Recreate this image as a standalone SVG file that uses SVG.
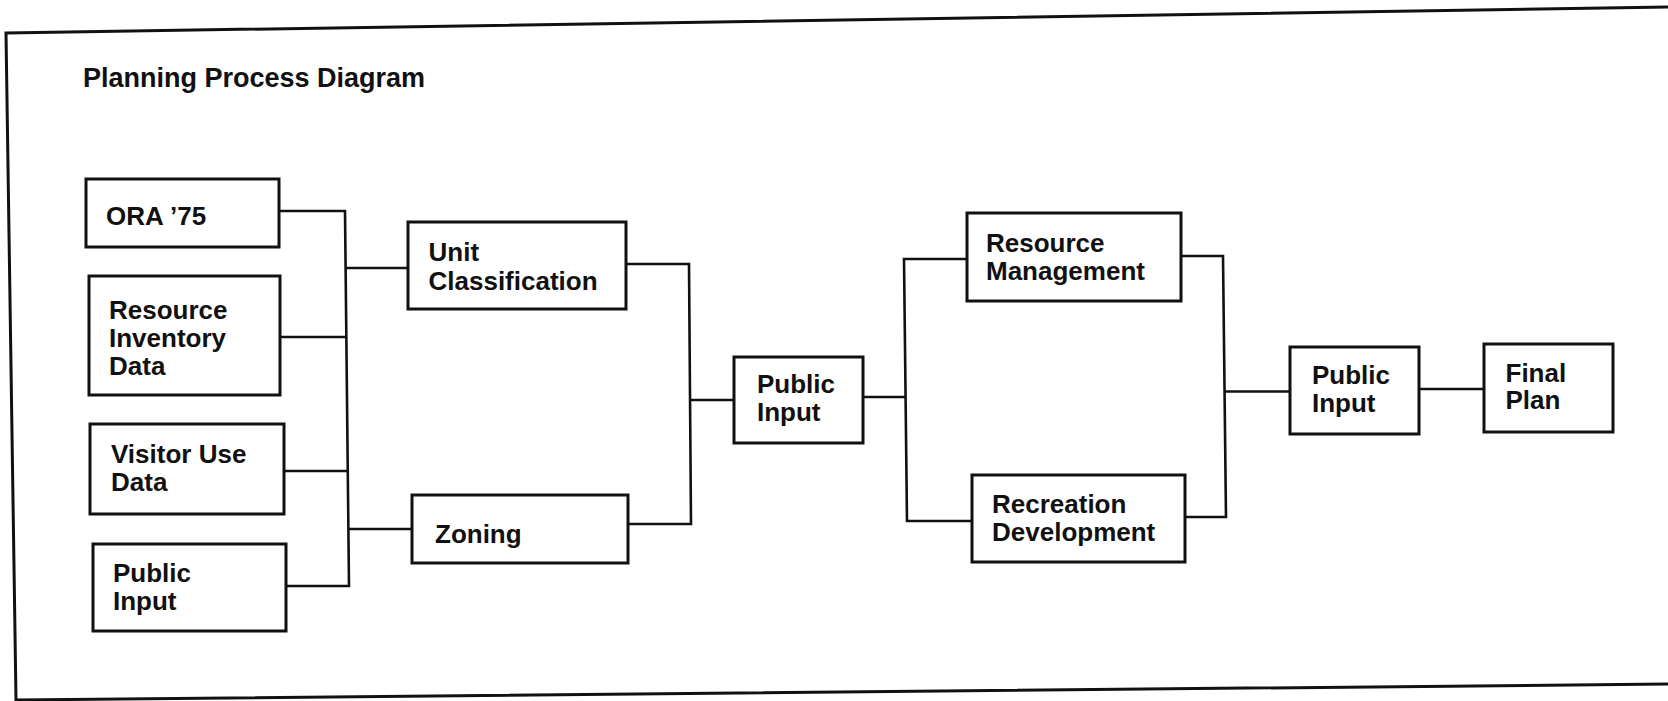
<svg xmlns="http://www.w3.org/2000/svg" width="1668" height="701" viewBox="0 0 1668 701">
<style>
.bg{fill:#fff}
.frame{fill:none;stroke:#111;stroke-width:3;stroke-linejoin:miter}
.box{fill:#fff;stroke:#111;stroke-width:3}
.con{fill:none;stroke:#111;stroke-width:2.6;stroke-linejoin:miter}
.t{font-family:"Liberation Sans",Arial,sans-serif;font-weight:bold;font-size:26px;fill:#111}
.title{font-family:"Liberation Sans",Arial,sans-serif;font-weight:bold;font-size:27px;fill:#111}
</style>
<rect class="bg" x="0" y="0" width="1668" height="701"/>
<polygon class="frame" points="6,33 1671,7 1671,684 16,700"/>
<text class="title" x="83" y="87">Planning Process Diagram</text>
<g id="connectors">
<polyline class="con" points="279,211 345,211 349,586 286,586"/>
<polyline class="con" points="280,337 346,337"/>
<polyline class="con" points="284,471 347,471"/>
<polyline class="con" points="345,268 408,268"/>
<polyline class="con" points="349,529 412,529"/>
<polyline class="con" points="626,264 689,264 691,524 628,524"/>
<polyline class="con" points="691,400 734,400"/>
<polyline class="con" points="863,397 905,397"/>
<polyline class="con" points="967,259 904,259 907,521 972,521"/>
<polyline class="con" points="1181,256 1223,256 1226,517 1185,517"/>
<polyline class="con" points="1225,391.5 1290,391.5"/>
<polyline class="con" points="1419,389 1484,389"/>
</g>
<g id="ora75"><rect class="box" x="86" y="179" width="193" height="68"/><text class="t" x="106" y="225">ORA ’75</text></g>
<g id="resource-inventory"><rect class="box" x="89" y="276" width="191" height="119"/><text class="t" x="109" y="319">Resource</text><text class="t" x="109" y="347">Inventory</text><text class="t" x="109" y="374.5">Data</text></g>
<g id="visitor-use"><rect class="box" x="90" y="424" width="194" height="90"/><text class="t" x="111" y="463">Visitor Use</text><text class="t" x="111" y="491">Data</text></g>
<g id="public-input-1"><rect class="box" x="93" y="544" width="193" height="87"/><text class="t" x="113" y="582">Public</text><text class="t" x="113" y="609.5">Input</text></g>
<g id="unit-classification"><rect class="box" x="408" y="222" width="218" height="87"/><text class="t" x="428.5" y="261">Unit</text><text class="t" x="428.5" y="290">Classification</text></g>
<g id="zoning"><rect class="box" x="412" y="495" width="216" height="68"/><text class="t" x="435" y="542.5">Zoning</text></g>
<g id="public-input-2"><rect class="box" x="734" y="357" width="129" height="86"/><text class="t" x="757" y="393">Public</text><text class="t" x="757" y="421">Input</text></g>
<g id="resource-management"><rect class="box" x="967" y="213" width="214" height="88"/><text class="t" x="986" y="252">Resource</text><text class="t" x="986" y="279.5">Management</text></g>
<g id="recreation-development"><rect class="box" x="972" y="475" width="213" height="87"/><text class="t" x="992" y="513">Recreation</text><text class="t" x="992" y="541">Development</text></g>
<g id="public-input-3"><rect class="box" x="1290" y="347" width="129" height="87"/><text class="t" x="1312" y="384">Public</text><text class="t" x="1312" y="411.5">Input</text></g>
<g id="final-plan"><rect class="box" x="1484" y="344" width="129" height="88"/><text class="t" x="1505.5" y="381.5">Final</text><text class="t" x="1505.5" y="409">Plan</text></g>
</svg>
